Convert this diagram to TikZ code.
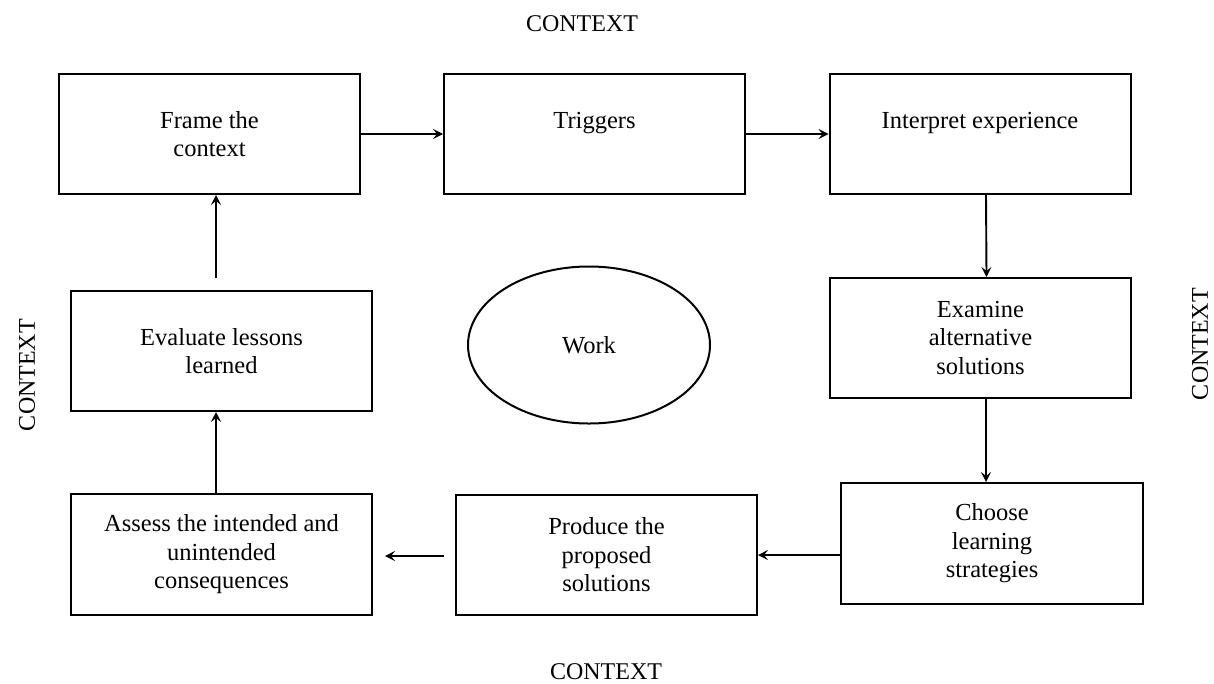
\documentclass[tikz,border=0pt]{standalone}
\usepackage{fontspec}
\setmainfont{Liberation Serif}
\usetikzlibrary{arrows.meta,shapes.geometric}
\begin{document}
\begin{tikzpicture}[x=1pt,y=-1pt,
  box/.style={draw,line width=2pt,minimum width=301pt,minimum height=120pt,inner sep=0pt,align=center,font=\fontsize{24.5}{28.5}\selectfont},
  lbl/.style={font=\fontsize{24}{28.5}\selectfont,inner sep=0pt},
  arr/.style={line width=1.9pt,-{Stealth[length=10pt,width=10pt,inset=4pt]}}]
\useasboundingbox (0,0) rectangle (1214,683);
\node[box] (b1) at (209.5,134) {Frame the\\context};
\node[box] (b2) at (594.5,134) {Triggers\\[-9pt]\strut};
\node[box] (b3) at (980,134) {Interpret experience\\[-9pt]\strut};
\node[box] (b4) at (980.5,338) {Examine\\alternative\\solutions};
\node[box,minimum width=302pt,minimum height=121pt] (b5) at (992,543.5) {Choose\\learning\\strategies};
\node[box] (b6) at (606.5,555) {Produce the\\proposed\\solutions};
\node[box,minimum height=121pt] (b7) at (221.5,554.5) {Assess the intended and\\unintended\\consequences};
\node[box] (b8) at (221.5,351) {Evaluate lessons\\learned};
\node[draw,ellipse,line width=2pt,minimum width=242pt,minimum height=157pt,inner sep=0pt,font=\fontsize{24.5}{28.5}\selectfont] (w) at (589,345) {Work};
\node[lbl] (ct) at (582,24) {CONTEXT};
\node[lbl] (cb) at (606,672) {CONTEXT};
\node[lbl,rotate=90] (cl) at (27,375) {CONTEXT};
\node[lbl,rotate=90] (cr) at (1200,344) {CONTEXT};
\coordinate (p1) at (444,556);
\coordinate (p2) at (385,556);
\coordinate (p3) at (216,278);
\draw[arr] (b1.east) -- (b2.west);
\draw[arr] (b2.east) -- (b3.west);
\draw[arr] ([xshift=6pt]b3.south) -- ([xshift=6pt]b4.north);
\draw[arr] ([xshift=5.5pt]b4.south) -- ([xshift=-6pt]b5.north);
\draw[arr] ([yshift=-11.5pt]b5.west) -- (b6.east);
\draw[arr] (p1) -- (p2);
\draw[arr] ([xshift=-5.5pt]b7.north) -- ([xshift=-5.5pt]b8.south);
\draw[arr] (p3) -- (p3 |- b1.south);
\end{tikzpicture}
\end{document}
